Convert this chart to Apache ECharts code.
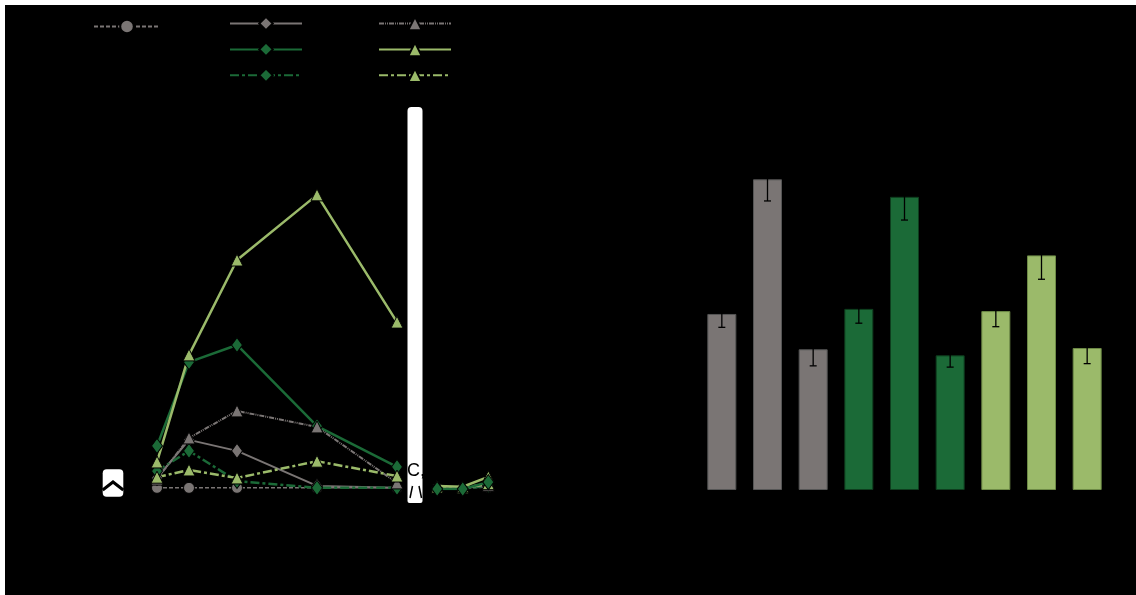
<!DOCTYPE html>
<html>
<head>
<meta charset="utf-8">
<script src="https://cdn.jsdelivr.net/npm/echarts@6/dist/echarts.min.js"></script>
<style>
  html, body { margin: 0; padding: 0; background: #ffffff; }
  #chart { position: absolute; left: 5px; top: 5px; width: 1131px; height: 590px; }
</style>
</head>
<body>
<div id="chart"></div>
<script>
// Sampling times before and after the axis break
const timesEarly = [0, 2, 5, 10, 15];
const timesLate = [1, 2, 3];

// Line series values (early points, then late points)
const grayCircleEarly = [0.3, 0.3, 0.3, 0.3, 0.3];
const grayCircleLate = [0.2, 0.2, 0.5];
const grayDiamondEarly = [2.9, 12.9, 10.0, 0.8, 0.3];
const grayDiamondLate = [0.3, 0.3, 0.8];
const grayTriangleEarly = [2.6, 13.4, 20.5, 16.3, 1.6];
const grayTriangleLate = [0.3, 0.3, 1.0];
const darkSolidEarly = [11.3, 33.3, 37.8, 16.5, 5.8];
const darkSolidLate = [0.0, 0.0, 1.8];
const darkDashEarly = [4.7, 10.0, 2.1, 0.3, 0.3];
const darkDashLate = [0.1, 0.1, 0.8];
const lightSolidEarly = [7.1, 35.2, 60.1, 77.2, 43.8];
const lightSolidLate = [0.8, 0.6, 3.2];
const lightDashEarly = [3.1, 5.0, 2.9, 7.3, 3.4];
const lightDashLate = [0.4, 0.3, 1.4];

// Bar panel
const barCategories = ['1', '2', '3', '4', '5', '6', '7', '8', '9'];
const barValues = [55.3, 97.6, 44.2, 56.9, 92.1, 42.3, 56.2, 73.7, 44.6];
const barErrors = [4.2, 6.8, 5.2, 4.5, 7.3, 3.7, 4.9, 7.5, 4.9];

const GRAY = '#7a7574';
const DARK = '#1b6a37';
const LIGHT = '#9bba6a';
const barColors = [GRAY, GRAY, GRAY, DARK, DARK, DARK, LIGHT, LIGHT, LIGHT];
const barBorders = ['#555', '#555', '#555', '#0e3d1e', '#0e3d1e', '#0e3d1e', '#6d8a46', '#6d8a46', '#6d8a46'];

const pairs = (xs, ys) => xs.map((x, i) => [x, ys[i]]);

const lineDefs = [
  { name: 'gc', early: grayCircleEarly, late: grayCircleLate, color: GRAY, symbol: 'circle', size: 11, width: 1.5, type: [4, 2], z: 2, zLate: 2 },
  { name: 'gd', early: grayDiamondEarly, late: grayDiamondLate, color: GRAY, symbol: 'diamond', size: [11, 15], width: 2, type: 'solid', z: 3, zLate: 3 },
  { name: 'ds', early: darkSolidEarly, late: darkSolidLate, color: DARK, symbol: 'diamond', size: [11, 15], width: 2.5, type: 'solid', z: 3, zLate: 6 },
  { name: 'dd', early: darkDashEarly, late: darkDashLate, color: DARK, symbol: 'diamond', size: [11, 15], width: 2.5, type: [9, 3, 3, 3], z: 3, zLate: 3 },
  { name: 'gt', early: grayTriangleEarly, late: grayTriangleLate, color: GRAY, symbol: 'triangle', size: 12, width: 2, type: [5, 1, 1, 1, 1, 1], z: 3, zLate: 3 },
  { name: 'ls', early: lightSolidEarly, late: lightSolidLate, color: LIGHT, symbol: 'triangle', size: 12, width: 2.5, type: 'solid', z: 3, zLate: 4 },
  { name: 'ld', early: lightDashEarly, late: lightDashLate, color: LIGHT, symbol: 'triangle', size: 12, width: 2.5, type: [9, 3, 3, 3], z: 3, zLate: 3 }
];

const series = [];
lineDefs.forEach(d => {
  const base = {
    name: d.name,
    type: 'line',
    symbol: d.symbol,
    symbolSize: d.size,
    lineStyle: { color: d.color, width: d.width, type: d.type },
    itemStyle: { color: d.color, borderColor: '#000', borderWidth: 1 }
  };
  const early = pairs(timesEarly, d.early);
  if (d.name === 'ds') {
    // significance letters next to the last early point
    early[4] = {
      value: early[4],
      label: { show: true, formatter: 'C,D', position: 'right', distance: 4, offset: [0, 4.5],
               color: '#000', fontSize: 18, fontFamily: 'Liberation Sans' }
    };
  }
  series.push(Object.assign({}, base, { xAxisIndex: 0, yAxisIndex: 0, z: d.z, data: early }));
  series.push(Object.assign({}, base, { xAxisIndex: 1, yAxisIndex: 1, z: d.zLate, data: pairs(timesLate, d.late) }));
});

series.push({
  type: 'bar',
  xAxisIndex: 2, yAxisIndex: 2,
  barWidth: 29,
  data: barValues.map((v, i) => ({
    value: v,
    itemStyle: { color: barColors[i], borderColor: barBorders[i], borderWidth: 1 }
  })),
  z: 2
});

series.push({
  type: 'custom',
  xAxisIndex: 2, yAxisIndex: 2,
  data: barValues.map((v, i) => [i, v - barErrors[i], v + barErrors[i]]),
  renderItem: function (params, api) {
    const lo = api.coord([api.value(0), api.value(1)]);
    const hi = api.coord([api.value(0), api.value(2)]);
    const w = 3.5;
    const st = { stroke: '#000', lineWidth: 1.3 };
    return {
      type: 'group',
      children: [
        { type: 'line', shape: { x1: lo[0], y1: lo[1], x2: hi[0], y2: hi[1] }, style: st },
        { type: 'line', shape: { x1: lo[0] - w, y1: lo[1], x2: lo[0] + w, y2: lo[1] }, style: st },
        { type: 'line', shape: { x1: hi[0] - w, y1: hi[1], x2: hi[0] + w, y2: hi[1] }, style: st }
      ]
    };
  },
  z: 4
});

const axisBlack = {
  axisLine: { show: true, lineStyle: { color: '#000', width: 1.5 } },
  axisTick: { show: true, lineStyle: { color: '#000' } },
  axisLabel: { color: '#000', fontFamily: 'Liberation Sans', fontSize: 13 },
  splitLine: { show: false }
};

const legendCommon = {
  orient: 'vertical',
  padding: 0,
  itemWidth: 72,
  itemHeight: 17,
  itemGap: 9.6,
  textStyle: { color: '#000', fontSize: 13 },
  formatter: () => '',
  selectedMode: false
};

const chart = echarts.init(document.getElementById('chart'));
chart.setOption({
  backgroundColor: '#000',
  animation: false,
  legend: [
    Object.assign({}, legendCommon, { left: 88, top: 13, itemWidth: 66, data: ['gc'] }),
    Object.assign({}, legendCommon, { left: 224, top: 10, data: ['gd', 'ds', 'dd'] }),
    Object.assign({}, legendCommon, { left: 373, top: 10, data: ['gt', 'ls', 'ld'] })
  ],
  grid: [
    { left: 104, right: 723, top: 103, bottom: 106 },
    { left: 413, right: 640, top: 103, bottom: 106 },
    { left: 694, right: 26, top: 103, bottom: 105 }
  ],
  xAxis: [
    Object.assign({ type: 'value', gridIndex: 0, min: -3, max: 16, interval: 1 }, axisBlack, { axisLabel: { show: false } }),
    Object.assign({ type: 'value', gridIndex: 1, min: 0.25, max: 3.3, interval: 1 }, axisBlack, { axisLabel: { show: false } }),
    Object.assign({ type: 'category', gridIndex: 2, data: barCategories }, axisBlack)
  ],
  yAxis: [
    Object.assign({ type: 'value', gridIndex: 0, min: 0, max: 100, interval: 20 }, axisBlack),
    Object.assign({ type: 'value', gridIndex: 1, min: 0, max: 100, show: false }),
    Object.assign({ type: 'value', gridIndex: 2, min: 0, max: 120, interval: 20 }, axisBlack)
  ],
  graphic: [
    // x-axis break band (below the series so the letters sit on it)
    { type: 'rect', z: 1, shape: { x: 402.5, y: 102, width: 15, height: 396, r: [4, 4, 2, 2] }, style: { fill: '#fff' } },
    { type: 'line', z: 11, shape: { x1: 405, y1: 493, x2: 407.5, y2: 481 }, style: { stroke: '#000', lineWidth: 1.5 } },
    { type: 'line', z: 11, shape: { x1: 414, y1: 481, x2: 416.5, y2: 493 }, style: { stroke: '#000', lineWidth: 1.5 } },
    // y-axis break mark
    { type: 'rect', z: 10, shape: { x: 97.7, y: 464.3, width: 20.6, height: 27.4, r: 4 }, style: { fill: '#fff' } },
    { type: 'polyline', z: 11, shape: { points: [[97.7, 485], [108, 477], [118.3, 485]] }, style: { stroke: '#000', lineWidth: 3, fill: null } }
  ],
  series: series
});
</script>
</body>
</html>
